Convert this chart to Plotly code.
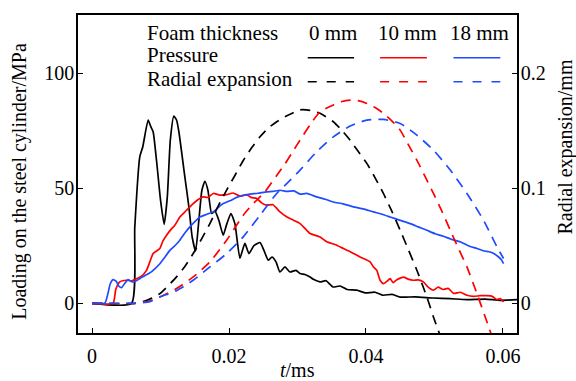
import plotly.graph_objects as go

# ---------------- data ----------------
# Pressure, 0 mm foam
t_p0 = [0, 0.00576, 0.00624, 0.00697, 0.00741, 0.00819, 0.00858, 0.00892, 0.00946, 0.01000,
        0.01053, 0.01099, 0.01143, 0.01194, 0.01234, 0.01268, 0.01355, 0.01414, 0.01462, 0.01512,
        0.0156, 0.01604, 0.01648, 0.01692, 0.01746, 0.01794, 0.01852, 0.01915, 0.01969, 0.02028,
        0.02086, 0.02159, 0.02232, 0.02291, 0.02364, 0.02452, 0.0251, 0.02573, 0.02627, 0.02686,
        0.02744, 0.02817, 0.0289, 0.02978, 0.03037, 0.0311, 0.03183, 0.03231, 0.03329, 0.03417,
        0.03519, 0.03621, 0.03724, 0.03865, 0.03987, 0.04133, 0.0425, 0.04382, 0.04499, 0.04718,
        0.04981, 0.0523, 0.05474, 0.05741, 0.0596, 0.06205]
p0 = [0, 0, 33, 63.6, 68, 79.6, 76.7, 74.5, 60.7, 44.8,
      34.3, 46.2, 70.9, 81.3, 79.6, 74.5, 54.9, 41.9, 28.8, 22.7,
      36.1, 49.1, 53, 49.1, 39, 40, 36, 29.6, 34.6, 39,
      34.6, 19.6, 26, 21.6, 25, 26.4, 23, 18.7, 20.1, 18,
      13.6, 15.8, 13.6, 14.3, 12.9, 12.5, 11.4, 10.4, 9.3, 9.8,
      7.1, 7.5, 6.0, 5.7, 4.5, 4.8, 3.5, 3.9, 2.7, 2.8,
      2.3, 2.0, 1.6, 1.8, 1.3, 1.6]

# Pressure, 10 mm foam
t_p10 = [0, 0.00307, 0.00346, 0.00405, 0.00503, 0.0058, 0.00649, 0.00712, 0.00795, 0.00844,
         0.00892, 0.0099, 0.01034, 0.01088, 0.01151, 0.01209, 0.01282, 0.0138, 0.01477, 0.01545,
         0.01623, 0.01692, 0.01769, 0.01867, 0.01965, 0.02061, 0.02159, 0.02257, 0.0232, 0.02404,
         0.02481, 0.0255, 0.02642, 0.02744, 0.02846, 0.02939, 0.03037, 0.03135, 0.03183, 0.03329,
         0.03427, 0.03548, 0.0367, 0.03797, 0.03914, 0.0406, 0.04104, 0.04158, 0.04206, 0.04254,
         0.04304, 0.04352, 0.04396, 0.0445, 0.04547, 0.04616, 0.04689, 0.04762, 0.04839, 0.04908,
         0.04985, 0.05054, 0.05127, 0.052, 0.05278, 0.05376, 0.05474, 0.0557, 0.05668, 0.05766,
         0.05844, 0.05912, 0.0596, 0.06009]
p10 = [0, 0, 6, 9.3, 10, 9.8, 10.7, 11.5, 14.3, 18,
       21.6, 23.8, 27, 29.6, 32, 33.9, 37.5, 40.4, 43.3, 45,
       46.2, 46, 47.7, 47, 47.2, 47.9, 46.5, 47.2, 46, 45.5,
       43.5, 42.6, 42.8, 39.7, 37.5, 36.1, 34.6, 31.7, 30.3, 28.8,
       26.7, 25.5, 23.8, 22, 20.1, 18, 16, 14.3, 10, 8.5,
       9.5, 10.7, 9, 10.2, 11.4, 10.5, 10, 10.2, 9.3, 7,
       5.7, 7, 6, 6.5, 4.3, 4.8, 3.5, 3, 3.3, 3.3,
       3, 1.6, 2.0, 0.6]

# Pressure, 18 mm foam
t_p18 = [0, 0.00186, 0.0023, 0.00266, 0.00307, 0.00354, 0.0039, 0.0043, 0.00474, 0.00526,
         0.0057, 0.0061, 0.00697, 0.0077, 0.00844, 0.00917, 0.0099, 0.01063, 0.01136, 0.01209,
         0.01282, 0.01355, 0.01428, 0.01501, 0.01575, 0.01661, 0.01769, 0.01838, 0.01915, 0.02013,
         0.02111, 0.02203, 0.02306, 0.02423, 0.0255, 0.02642, 0.02744, 0.02846, 0.02949, 0.03037,
         0.03135, 0.03281, 0.03402, 0.03523, 0.03665, 0.03816, 0.03958, 0.04108, 0.04221, 0.04352,
         0.04499, 0.04645, 0.04762, 0.04889, 0.0501, 0.05132, 0.05244, 0.05376, 0.05493, 0.0562,
         0.05712, 0.05814, 0.05873, 0.05936, 0.05975, 0.06009]
p18 = [0, 0, 4, 8.5, 10.3, 9.5, 7.5, 6.8, 8.5, 10.3,
       9.5, 9.2, 10.7, 12, 13.2, 15, 17.2, 20, 23, 25,
       27.4, 30.5, 33.2, 35.5, 37.5, 38.5, 39.7, 41.5, 43.3, 44.5,
       46, 46.8, 47.4, 47.8, 48.4, 48.6, 49.1, 48.6, 48.8, 47.4,
       47.7, 46.2, 45.2, 44, 43.2, 41.9, 41, 39.7, 38.8, 37.5,
       36, 34.6, 33.2, 31.7, 30.2, 29.1, 27.8, 26.7, 25, 23.8,
       22.8, 22.3, 21.5, 20.1, 19, 17.2]

# Radial expansion (mm)
t_r0 = [0, 0.00624, 0.0077, 0.00873, 0.0099, 0.01107, 0.01234, 0.01355, 0.01477, 0.016,
        0.01721, 0.01838, 0.01965, 0.02086, 0.02208, 0.0233, 0.02452, 0.02569, 0.02696, 0.02817,
        0.02939, 0.03037, 0.03183, 0.03329, 0.03523, 0.03636, 0.03768, 0.03885, 0.04012, 0.04133,
        0.04254, 0.04377, 0.04499, 0.04616, 0.04743, 0.04889, 0.04985, 0.05083]
r0 = [0, 0, 0.002, 0.0045, 0.0084, 0.015, 0.0229, 0.032, 0.0432, 0.056,
      0.0693, 0.084, 0.0983, 0.111, 0.124, 0.135, 0.1446, 0.152, 0.1577, 0.162,
      0.1655, 0.168, 0.1675, 0.165, 0.1577, 0.151, 0.1417, 0.132, 0.1215, 0.109,
      0.0954, 0.08, 0.0635, 0.047, 0.0287, 0.0055, -0.0119, -0.028]

t_r10 = [0, 0.00624, 0.00844, 0.0099, 0.01234, 0.01477, 0.01721, 0.01965, 0.02208, 0.0233,
         0.02452, 0.02525, 0.02696, 0.02817, 0.02939, 0.03037, 0.03183, 0.03329, 0.03523, 0.03636,
         0.03768, 0.03885, 0.04012, 0.04133, 0.04254, 0.04377, 0.04499, 0.04616, 0.04743, 0.04864,
         0.04985, 0.05108, 0.0523, 0.05347, 0.05474, 0.0562, 0.05741, 0.05829]
r10 = [0, 0, 0.002, 0.0055, 0.0128, 0.0229, 0.0359, 0.0548, 0.0765, 0.085,
       0.0925, 0.0968, 0.111, 0.121, 0.1325, 0.1417, 0.155, 0.1663, 0.1722, 0.175,
       0.1765, 0.176, 0.1736, 0.170, 0.165, 0.1585, 0.1504, 0.138, 0.1243, 0.11,
       0.0954, 0.08, 0.0635, 0.048, 0.0316, 0.0084, -0.0119, -0.027]

t_r18 = [0, 0.00624, 0.00844, 0.0099, 0.01234, 0.01477, 0.01721, 0.01965, 0.02208, 0.02452,
         0.02696, 0.02861, 0.03037, 0.03281, 0.03523, 0.03768, 0.04012, 0.04254, 0.04499, 0.04743,
         0.04985, 0.0523, 0.05474, 0.05716, 0.05912, 0.06009]
r18 = [0, 0, 0.0015, 0.0055, 0.011, 0.02, 0.0316, 0.0432, 0.0577, 0.0765,
       0.0954, 0.105, 0.1157, 0.1316, 0.1446, 0.1539, 0.1591, 0.1597, 0.1562, 0.146,
       0.133, 0.1157, 0.0954, 0.0722, 0.049, 0.0389]

thickness_labels = ["0 mm", "10 mm", "18 mm"]
colors = ["#000000", "#ff0000", "#1f4bff"]

# ---------------- figure ----------------
FONT = "Liberation Serif, Times New Roman, serif"
fig = go.Figure()
LW = 1.7
DASH = "10px,7px"

pressure = [(t_p0, p0), (t_p10, p10), (t_p18, p18)]
radial = [(t_r0, r0), (t_r10, r10), (t_r18, r18)]

for (tx, ty), c in zip(radial, colors):
    fig.add_trace(go.Scatter(x=tx, y=ty, yaxis="y2", mode="lines",
                             line=dict(color=c, width=LW, dash=DASH, shape="spline", smoothing=0.6),
                             showlegend=False, hoverinfo="skip"))
for (tx, ty), c in zip(pressure, colors):
    fig.add_trace(go.Scatter(x=tx, y=ty, mode="lines",
                             line=dict(color=c, width=LW, shape="spline", smoothing=0.5),
                             showlegend=False, hoverinfo="skip"))

# plot area in pixels: left 78.3, right 516.7, top 15, bottom 332.7
L, R, T, B = 78.3, 516.7, 15.0, 332.7
W, H = R - L, B - T
def px(x):
    return (x - L) / W
def py(y):
    return (B - y) / H

ann = []
shapes = []
fs = 20
lfs = 21
# legend header
ann.append(dict(x=px(145), y=py(33), text="Foam thickness", xanchor="left", yanchor="middle", size=lfs))
for xl, lab in zip([306.7, 375.7, 447.7], thickness_labels):
    ann.append(dict(x=px(xl), y=py(33), text=lab, xanchor="left", yanchor="middle", size=lfs))
ann.append(dict(x=px(145), y=py(55), text="Pressure", xanchor="left", yanchor="middle", size=lfs))
ann.append(dict(x=px(145), y=py(79), text="Radial expansion", xanchor="left", yanchor="middle", size=lfs))
for (x0, x1), c in zip([(307.7, 354), (380, 426.7), (453.3, 500)], colors):
    shapes.append(dict(type="line", xref="paper", yref="paper", x0=px(x0), x1=px(x1),
                       y0=py(57.7), y1=py(57.7), line=dict(color=c, width=LW)))
    shapes.append(dict(type="line", xref="paper", yref="paper", x0=px(x0), x1=px(x1),
                       y0=py(81.7), y1=py(81.7), line=dict(color=c, width=LW, dash="9px,10px")))

# axis titles
ann.append(dict(x=0.5, y=py(370), text="<i>t</i>/ms", xanchor="center", yanchor="middle", size=fs))
ann.append(dict(x=px(20), y=py(181), text="Loading on the steel cylinder/MPa", textangle=-90,
                xanchor="center", yanchor="middle", size=fs))
ann.append(dict(x=px(565), y=py(147), text="Radial expansion/mm", textangle=-90,
                xanchor="center", yanchor="middle", size=fs))
for a in ann:
    s = a.pop("size")
    a.update(xref="paper", yref="paper", showarrow=False, font=dict(family=FONT, size=s, color="black"))

axis_common = dict(showgrid=False, zeroline=False, showline=True, linecolor="black", linewidth=1.5,
                   ticks="inside", ticklen=5, tickwidth=1.3, tickcolor="black",
                   tickfont=dict(family=FONT, size=fs, color="black"))

fig.update_layout(
    width=576, height=381,
    margin=dict(l=L, r=576 - R, t=T, b=381 - B),
    paper_bgcolor="white", plot_bgcolor="white",
    showlegend=False,
    xaxis=dict(range=[-0.00205, 0.06205], tickvals=[0, 0.02, 0.04, 0.06],
               ticktext=["0", "0.02", "0.04", "0.06"], mirror=True, ticklabelstandoff=4, **axis_common),
    yaxis=dict(range=[-12.9, 125.2], tickvals=[0, 50, 100], ticklabelstandoff=-2, **axis_common),
    yaxis2=dict(range=[-0.0258, 0.2504], tickvals=[0, 0.1, 0.2], ticktext=["0", "0.1", "0.2"],
                overlaying="y", side="right", ticklabelstandoff=-2, **axis_common),
    annotations=ann, shapes=shapes,
)

fig.write_html("out.html", config={"displayModeBar": False},
               post_script="document.body.style.margin='0';document.body.style.overflow='hidden';")
